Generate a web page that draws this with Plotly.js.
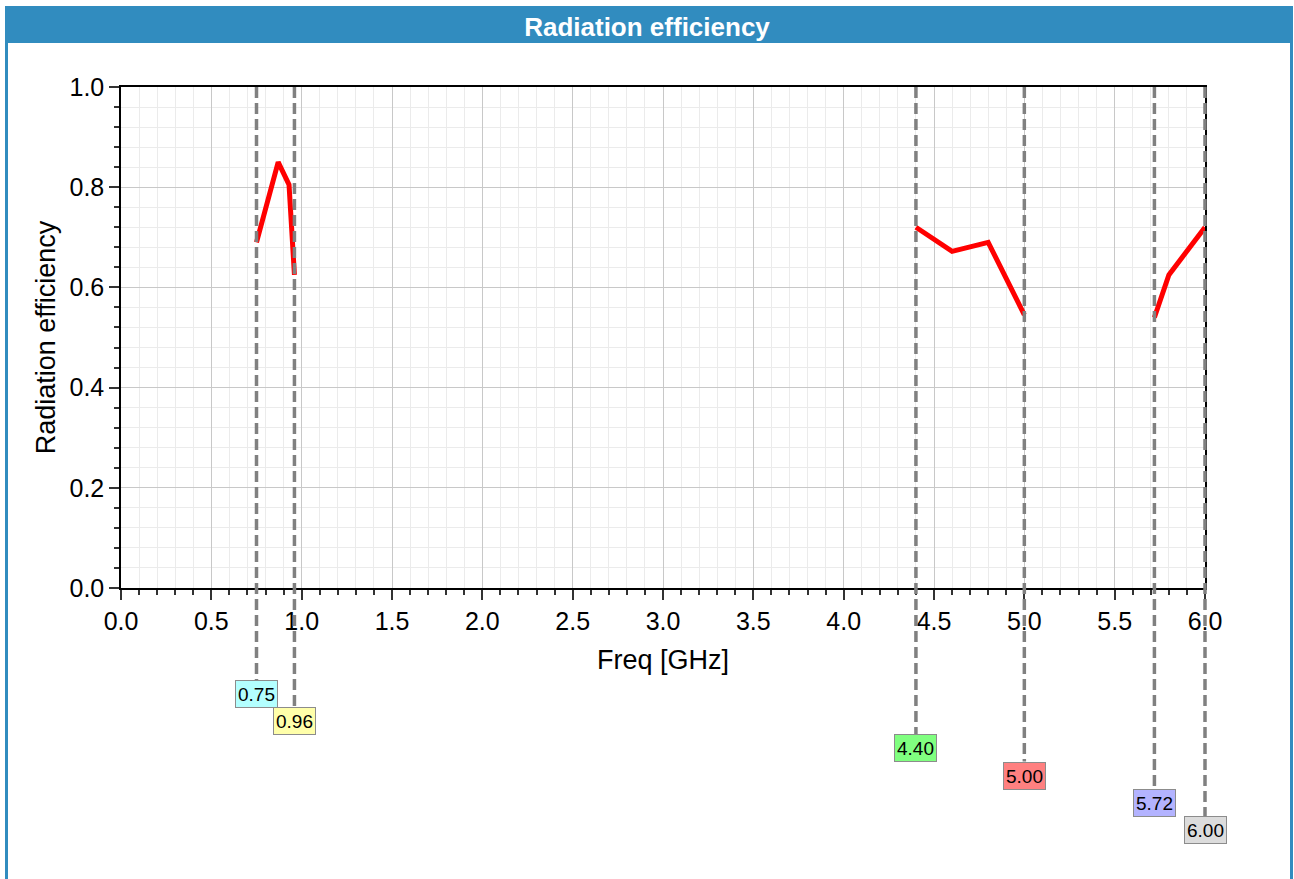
<!DOCTYPE html>
<html>
<head>
<meta charset="utf-8">
<script src="https://cdn.plot.ly/plotly-3.0.1.min.js"></script>
<style>
  html, body { margin: 0; padding: 0; background: #ffffff; }
  #chart { width: 1294px; height: 879px; }
</style>
</head>
<body>
<div id="chart"></div>
<script>
// ---- data ----
const band1Freq = [0.75, 0.78, 0.87, 0.93, 0.955, 0.96];
const band1Eff  = [0.69, 0.73, 0.85, 0.805, 0.66, 0.625];

const band2Freq = [4.40, 4.60, 4.80, 5.00];
const band2Eff  = [0.72, 0.672, 0.69, 0.545];

const band3Freq = [5.72, 5.80, 6.00];
const band3Eff  = [0.54, 0.625, 0.72];

const markerFreqs  = [0.75, 0.96, 4.40, 5.00, 5.72, 6.00];
const markerLabels = ['0.75', '0.96', '4.40', '5.00', '5.72', '6.00'];
const markerColors = ['#b3ffff', '#ffffaa', '#80ff80', '#ff8080', '#b3b3ff', '#dcdcdc'];

const titleText = 'Radiation efficiency';
const xTitle = 'Freq [GHz]';
const yTitle = 'Radiation efficiency';

const xRange = [0, 6];
const yRange = [0, 1];

// ---- layout geometry (pixels) ----
const W = 1294, H = 879;
const plotL = 121, plotR = 1205, plotT = 87, plotB = 588;
const pw = plotR - plotL, ph = plotB - plotT;
const px2x = p => (p - plotL) / pw;
const py2y = p => (plotB - p) / ph;
const blue = '#318cbf';
const FONT = 'Liberation Sans, Arial, Helvetica, sans-serif';

const lineStyle = { color: '#ff0000', width: 5 };
const traces = [
  { x: band1Freq, y: band1Eff, mode: 'lines', line: lineStyle, hoverinfo: 'x+y', showlegend: false },
  { x: band2Freq, y: band2Eff, mode: 'lines', line: lineStyle, hoverinfo: 'x+y', showlegend: false },
  { x: band3Freq, y: band3Eff, mode: 'lines', line: lineStyle, hoverinfo: 'x+y', showlegend: false }
];

const shapes = [
  // header bar
  { type: 'rect', xref: 'paper', yref: 'paper', layer: 'below',
    x0: px2x(5), x1: px2x(1293), y0: py2y(43), y1: py2y(6),
    fillcolor: blue, line: { width: 0 } },
  // left border
  { type: 'rect', xref: 'paper', yref: 'paper', layer: 'below',
    x0: px2x(5), x1: px2x(8), y0: py2y(H + 5), y1: py2y(42),
    fillcolor: blue, line: { width: 0 } },
  // right border
  { type: 'rect', xref: 'paper', yref: 'paper', layer: 'below',
    x0: px2x(1290), x1: px2x(1293), y0: py2y(H + 5), y1: py2y(42),
    fillcolor: blue, line: { width: 0 } }
];

const annotations = [];
const boxH = 28, firstCenter = 694, step = 27.2;
markerFreqs.forEach((f, i) => {
  const cy = firstCenter + i * step;
  // fraction along the x axis domain (not clipped at the plot edge)
  const fx = (f - xRange[0]) / (xRange[1] - xRange[0]);
  shapes.push({
    type: 'line', xref: 'x domain', yref: 'paper', layer: 'above',
    x0: fx, x1: fx, y0: 1, y1: py2y(cy - boxH / 2),
    line: { color: '#808080', width: 3.5, dash: '11px,5px' }
  });
  annotations.push({
    xref: 'x', yref: 'paper', x: f, y: py2y(cy),
    xanchor: 'center', yanchor: 'middle', showarrow: false,
    text: markerLabels[i], width: 37, height: 22, align: 'center', valign: 'middle',
    font: { family: FONT, size: 19, color: '#000000' },
    bgcolor: markerColors[i], bordercolor: '#8c8c8c', borderwidth: 1, borderpad: 2
  });
});

const axisFont = { family: FONT, size: 25, color: '#000000' };
const titleFont = { family: FONT, size: 27, color: '#000000' };

const layout = {
  width: W, height: H,
  margin: { l: plotL, r: W - plotR, t: plotT, b: H - plotB, pad: 0 },
  paper_bgcolor: '#ffffff', plot_bgcolor: '#ffffff',
  showlegend: false,
  title: {
    text: '<b>' + titleText + '</b>',
    font: { family: FONT, size: 26, color: '#ffffff' },
    xref: 'container', x: 0.5, xanchor: 'center',
    yref: 'container', y: 1 - 27 / H, yanchor: 'middle'
  },
  xaxis: {
    range: xRange, dtick: 0.5, tick0: 0, tickformat: '.1f',
    ticks: 'outside', ticklen: 10, tickwidth: 1.5, tickcolor: '#333333',
    showline: true, linecolor: '#000000', linewidth: 1.5, mirror: true,
    showgrid: true, gridcolor: '#c8c8c8', gridwidth: 1,
    zeroline: false, tickfont: axisFont,
    minor: { dtick: 0.1, ticks: 'outside', ticklen: 5, tickcolor: '#333333', showgrid: true, gridcolor: '#ebebeb', gridwidth: 1 },
    title: { text: xTitle, font: titleFont, standoff: 16 }
  },
  yaxis: {
    range: yRange, dtick: 0.2, tick0: 0, tickformat: '.1f',
    ticks: 'outside', ticklen: 10, tickwidth: 1.5, tickcolor: '#333333',
    showline: true, linecolor: '#000000', linewidth: 1.5, mirror: true,
    showgrid: true, gridcolor: '#c8c8c8', gridwidth: 1,
    zeroline: false, tickfont: axisFont,
    minor: { dtick: 0.04, ticks: 'outside', ticklen: 5, tickcolor: '#333333', showgrid: true, gridcolor: '#ebebeb', gridwidth: 1 },
    title: { text: yTitle, font: titleFont, standoff: 6 }
  },
  shapes: shapes,
  annotations: annotations
};

Plotly.newPlot('chart', traces, layout, { displayModeBar: false, responsive: false });
</script>
</body>
</html>
